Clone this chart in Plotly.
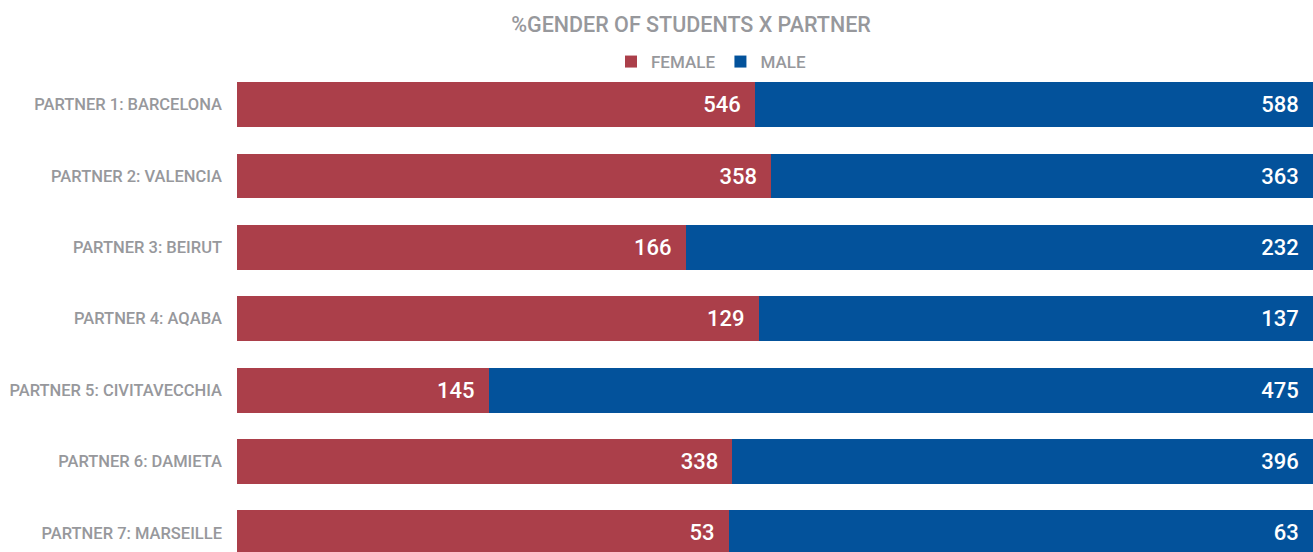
import plotly.graph_objects as go

partners = ["PARTNER 1: BARCELONA", "PARTNER 2: VALENCIA", "PARTNER 3: BEIRUT",
            "PARTNER 4: AQABA", "PARTNER 5: CIVITAVECCHIA", "PARTNER 6: DAMIETA",
            "PARTNER 7: MARSEILLE"]
female = [546, 358, 166, 129, 145, 338, 53]
male = [588, 363, 232, 137, 475, 396, 63]

total = [f + m for f, m in zip(female, male)]
female_share = [f / t for f, t in zip(female, total)]
male_share = [m / t for m, t in zip(male, total)]

FONT = "Roboto, sans-serif"
GRAY = "#97989c"
RED = "#ab3f4a"
BLUE = "#03529b"
PAD = "\u2002"

fig = go.Figure()
fig.add_trace(go.Bar(
    y=partners, x=female_share, name="FEMALE", orientation="h",
    marker=dict(color=RED, line=dict(width=0)),
    text=[f"{v}{PAD}" for v in female], textposition="inside", insidetextanchor="end",
    textfont=dict(color="white", size=22, family=FONT, weight=500), textangle=0,
    hoverinfo="skip",
))
fig.add_trace(go.Bar(
    y=partners, x=male_share, name="MALE", orientation="h",
    marker=dict(color=BLUE, line=dict(width=0)),
    text=[f"{v}{PAD}" for v in male], textposition="inside", insidetextanchor="end",
    textfont=dict(color="white", size=22, family=FONT, weight=500), textangle=0,
    hoverinfo="skip",
))

fig.update_layout(
    barmode="stack",
    bargap=0.37,
    width=1313, height=552,
    margin=dict(l=237, r=0, t=69, b=0),
    paper_bgcolor="white", plot_bgcolor="white",
    font=dict(family=FONT, color=GRAY),
    uniformtext=dict(minsize=10, mode="show"),
    title=dict(text="%GENDER OF STUDENTS X PARTNER", x=691 / 1313, xanchor="center",
               y=1 - 24 / 552, yanchor="middle", yref="container",
               font=dict(size=21.5, color=GRAY, family=FONT, weight=500)),
    legend=dict(orientation="h", xref="paper", x=(711 - 237) / 1076, xanchor="center",
                yref="paper", y=1 + (69 - 62) / 483, yanchor="middle",
                font=dict(size=17, color=GRAY, family=FONT, weight=500),
                itemwidth=30, traceorder="normal", itemsizing="constant"),
    xaxis=dict(range=[0, 1], visible=False, fixedrange=True),
    yaxis=dict(autorange=False, range=[6.27, -0.5], categoryorder="array",
               categoryarray=partners, showgrid=False, zeroline=False,
               showline=False, ticks="", ticklabelstandoff=14, automargin=False,
               tickfont=dict(size=16.5, color=GRAY, family=FONT, weight=500)),
    showlegend=True,
)

fig.write_html("out.html")
